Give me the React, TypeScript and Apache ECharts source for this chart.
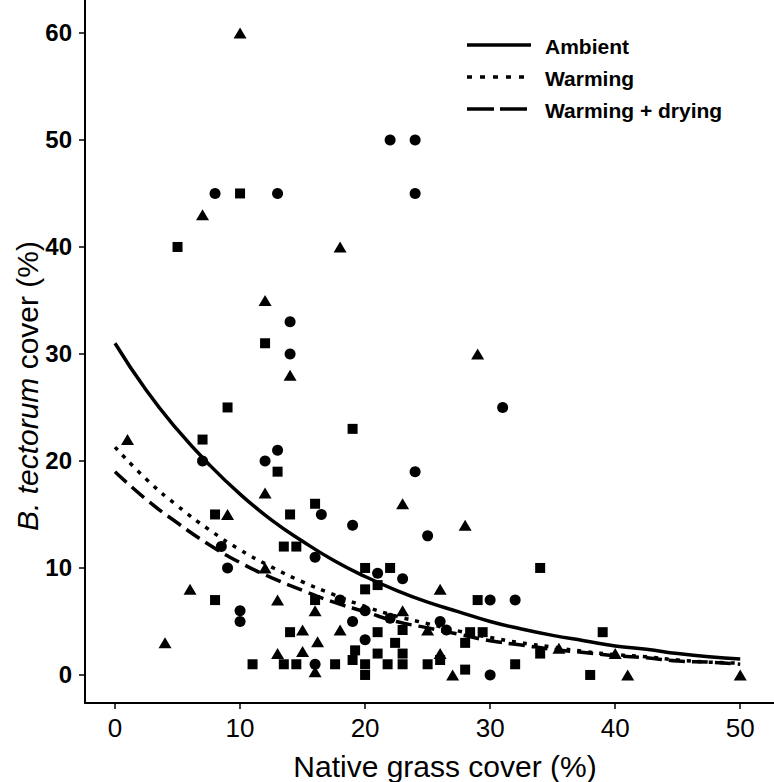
import React, { useEffect, useRef } from "react";
import * as echarts from "echarts";

// Scatter points: [native grass cover %, B. tectorum cover %]
const circlePoints: [number, number][] = [
  [8, 45], [13, 45], [22, 50], [24, 50], [24, 45], [14, 33], [14, 30],
  [13, 21], [7, 20], [12, 20], [16.5, 15], [19, 14], [8.5, 12], [9, 10],
  [10, 6], [10, 5], [16, 11], [16, 1], [24, 19], [31, 25], [25, 13],
  [23, 9], [18, 7], [20, 6], [22, 5.3], [26, 5], [19, 5], [26.5, 4.2],
  [20, 3.3], [30, 7], [32, 7], [30, 0], [21, 9.5],
];

const squarePoints: [number, number][] = [
  [10, 45], [5, 40], [12, 31], [9, 25], [19, 23], [7, 22], [13, 19],
  [16, 16], [8, 15], [14, 15], [13.5, 12], [14.5, 12], [8, 7], [11, 1],
  [14, 4], [13.5, 1], [14.5, 1], [17.6, 1], [16, 7], [20, 10], [22, 10],
  [20, 8], [21, 8.4], [21, 4], [23, 4.2], [22.4, 3], [19.2, 2.3], [21, 2],
  [23, 2], [19, 1.4], [20, 1], [21.8, 1], [23, 1], [25, 1], [26, 1.4],
  [20, 0], [34, 10], [29, 7], [28.4, 4], [29.4, 4], [28, 3], [34, 2],
  [32, 1], [28, 0.5], [38, 0], [39, 4],
];

const trianglePoints: [number, number][] = [
  [10, 60], [7, 43], [18, 40], [29, 30], [12, 35], [14, 28], [1, 22],
  [12, 17], [9, 15], [23, 16], [28, 14], [6, 8], [4, 3], [13, 7],
  [15, 4.2], [16.2, 3.1], [18, 4.2], [13, 2], [15, 2.2], [16, 0.3],
  [16, 6], [26, 8], [23, 6], [25, 4.2], [26, 2], [27, 0], [12, 10],
  [35.5, 2.5], [40, 2], [41, 0], [50, 0],
];

// Fitted curves at regular x positions
const curveX = [0, 2.5, 5, 7.5, 10, 12.5, 15, 17.5, 20, 22.5, 25, 27.5, 30, 32.5, 35, 37.5, 40, 42.5, 45, 47.5, 50];
const ambientCurve = [31.0, 26.6, 22.9, 19.7, 16.9, 14.5, 12.5, 10.7, 9.2, 7.9, 6.8, 5.9, 5.0, 4.3, 3.7, 3.2, 2.7, 2.4, 2.0, 1.7, 1.5];
const warmingCurve = [21.3, 18.3, 15.8, 13.6, 11.7, 10.1, 8.7, 7.5, 6.4, 5.5, 4.8, 4.1, 3.5, 3.0, 2.6, 2.2, 1.9, 1.7, 1.4, 1.2, 1.1];
const dryingCurve = [19.0, 16.4, 14.2, 12.2, 10.5, 9.1, 7.9, 6.8, 5.9, 5.0, 4.4, 3.8, 3.2, 2.8, 2.4, 2.1, 1.8, 1.6, 1.3, 1.2, 1.0];

const xTickValues = [0, 10, 20, 30, 40, 50];
const yTickValues = [0, 10, 20, 30, 40, 50, 60];
const legendLabels = ["Ambient", "Warming", "Warming + drying"];

const FONT = "'Liberation Sans', Arial, Helvetica, sans-serif";

export default function App() {
  const ref = useRef<HTMLDivElement>(null);

  useEffect(() => {
    if (!ref.current) return;
    const chart = echarts.init(ref.current, null, { renderer: "svg" });
    const toLine = (vals: number[]) => curveX.map((x, i) => [x, vals[i]]);

    const legendY = [45, 77, 109];
    const legendDash: (number[] | null)[] = [null, [5, 8], [27, 6]];
    const legendGraphics: any[] = [];
    legendLabels.forEach((label, i) => {
      legendGraphics.push({
        type: "line",
        shape: { x1: 467, y1: legendY[i], x2: 531, y2: legendY[i] },
        style: {
          stroke: "#000",
          lineWidth: 3.5,
          lineDash: legendDash[i] || undefined,
        },
        z: 100,
      });
      legendGraphics.push({
        type: "text",
        x: 545,
        y: legendY[i] + 1,
        style: {
          text: label,
          fill: "#000",
          font: `bold 21px ${FONT}`,
          verticalAlign: "middle",
          align: "left",
        },
        z: 100,
      });
    });

    chart.setOption({
      animation: false,
      backgroundColor: "#fff",
      textStyle: { fontFamily: FONT },
      grid: { left: 85, right: 0, top: 0, bottom: 79, outerBoundsMode: "none" },
      xAxis: {
        type: "value",
        min: -2.4,
        max: 52.7,
        splitLine: { show: false },
        axisLine: { show: true, onZero: false, lineStyle: { color: "#000", width: 2 } },
        axisTick: { show: true, customValues: xTickValues, length: 6, lineStyle: { color: "#000", width: 1.5 } },
        axisLabel: { customValues: xTickValues, fontSize: 26, color: "#000", margin: 12, fontFamily: FONT },
      },
      yAxis: {
        type: "value",
        min: -2.62,
        max: 63.08,
        splitLine: { show: false },
        axisLine: { show: true, onZero: false, lineStyle: { color: "#000", width: 2 } },
        axisTick: { show: true, customValues: yTickValues, length: 6, lineStyle: { color: "#000", width: 1.5 } },
        axisLabel: { customValues: yTickValues, fontSize: 24, fontWeight: "bold", color: "#000", margin: 13, fontFamily: FONT },
      },
      graphic: [
        ...legendGraphics,
        {
          type: "text",
          x: 27,
          y: 386,
          rotation: Math.PI / 2,
          style: {
            text: "{i|B. tectorum} cover (%)",
            fill: "#000",
            font: `30px ${FONT}`,
            align: "center",
            verticalAlign: "middle",
            rich: {
              i: { fontStyle: "italic", fontSize: 30, fontFamily: FONT, fill: "#000" },
            },
          },
        },
        {
          type: "text",
          x: 445,
          y: 766,
          style: {
            text: "Native grass cover (%)",
            fill: "#000",
            font: `30px ${FONT}`,
            align: "center",
            verticalAlign: "middle",
          },
        },
      ],
      series: [
        {
          name: "Ambient",
          type: "line",
          data: toLine(ambientCurve),
          smooth: true,
          showSymbol: false,
          lineStyle: { color: "#000", width: 3.5, type: "solid" },
          z: 3,
        },
        {
          name: "Warming",
          type: "line",
          data: toLine(warmingCurve),
          smooth: true,
          showSymbol: false,
          lineStyle: { color: "#000", width: 3.5, type: [4, 7] },
          z: 3,
        },
        {
          name: "Warming + drying",
          type: "line",
          data: toLine(dryingCurve),
          smooth: true,
          showSymbol: false,
          lineStyle: { color: "#000", width: 3.5, type: [16, 7] },
          z: 3,
        },
        {
          type: "scatter",
          data: circlePoints,
          symbol: "circle",
          symbolSize: 11,
          itemStyle: { color: "#000", opacity: 1 },
          z: 4,
        },
        {
          type: "scatter",
          data: squarePoints,
          symbol: "rect",
          symbolSize: 10,
          itemStyle: { color: "#000", opacity: 1 },
          z: 4,
        },
        {
          type: "scatter",
          data: trianglePoints,
          symbol: "triangle",
          symbolSize: [13, 11],
          itemStyle: { color: "#000", opacity: 1 },
          z: 4,
        },
      ],
    });

    return () => chart.dispose();
  }, []);

  return (
    <div
      ref={ref}
      style={{ position: "absolute", left: 0, top: 0, width: 774, height: 782, background: "#fff" }}
    />
  );
}
